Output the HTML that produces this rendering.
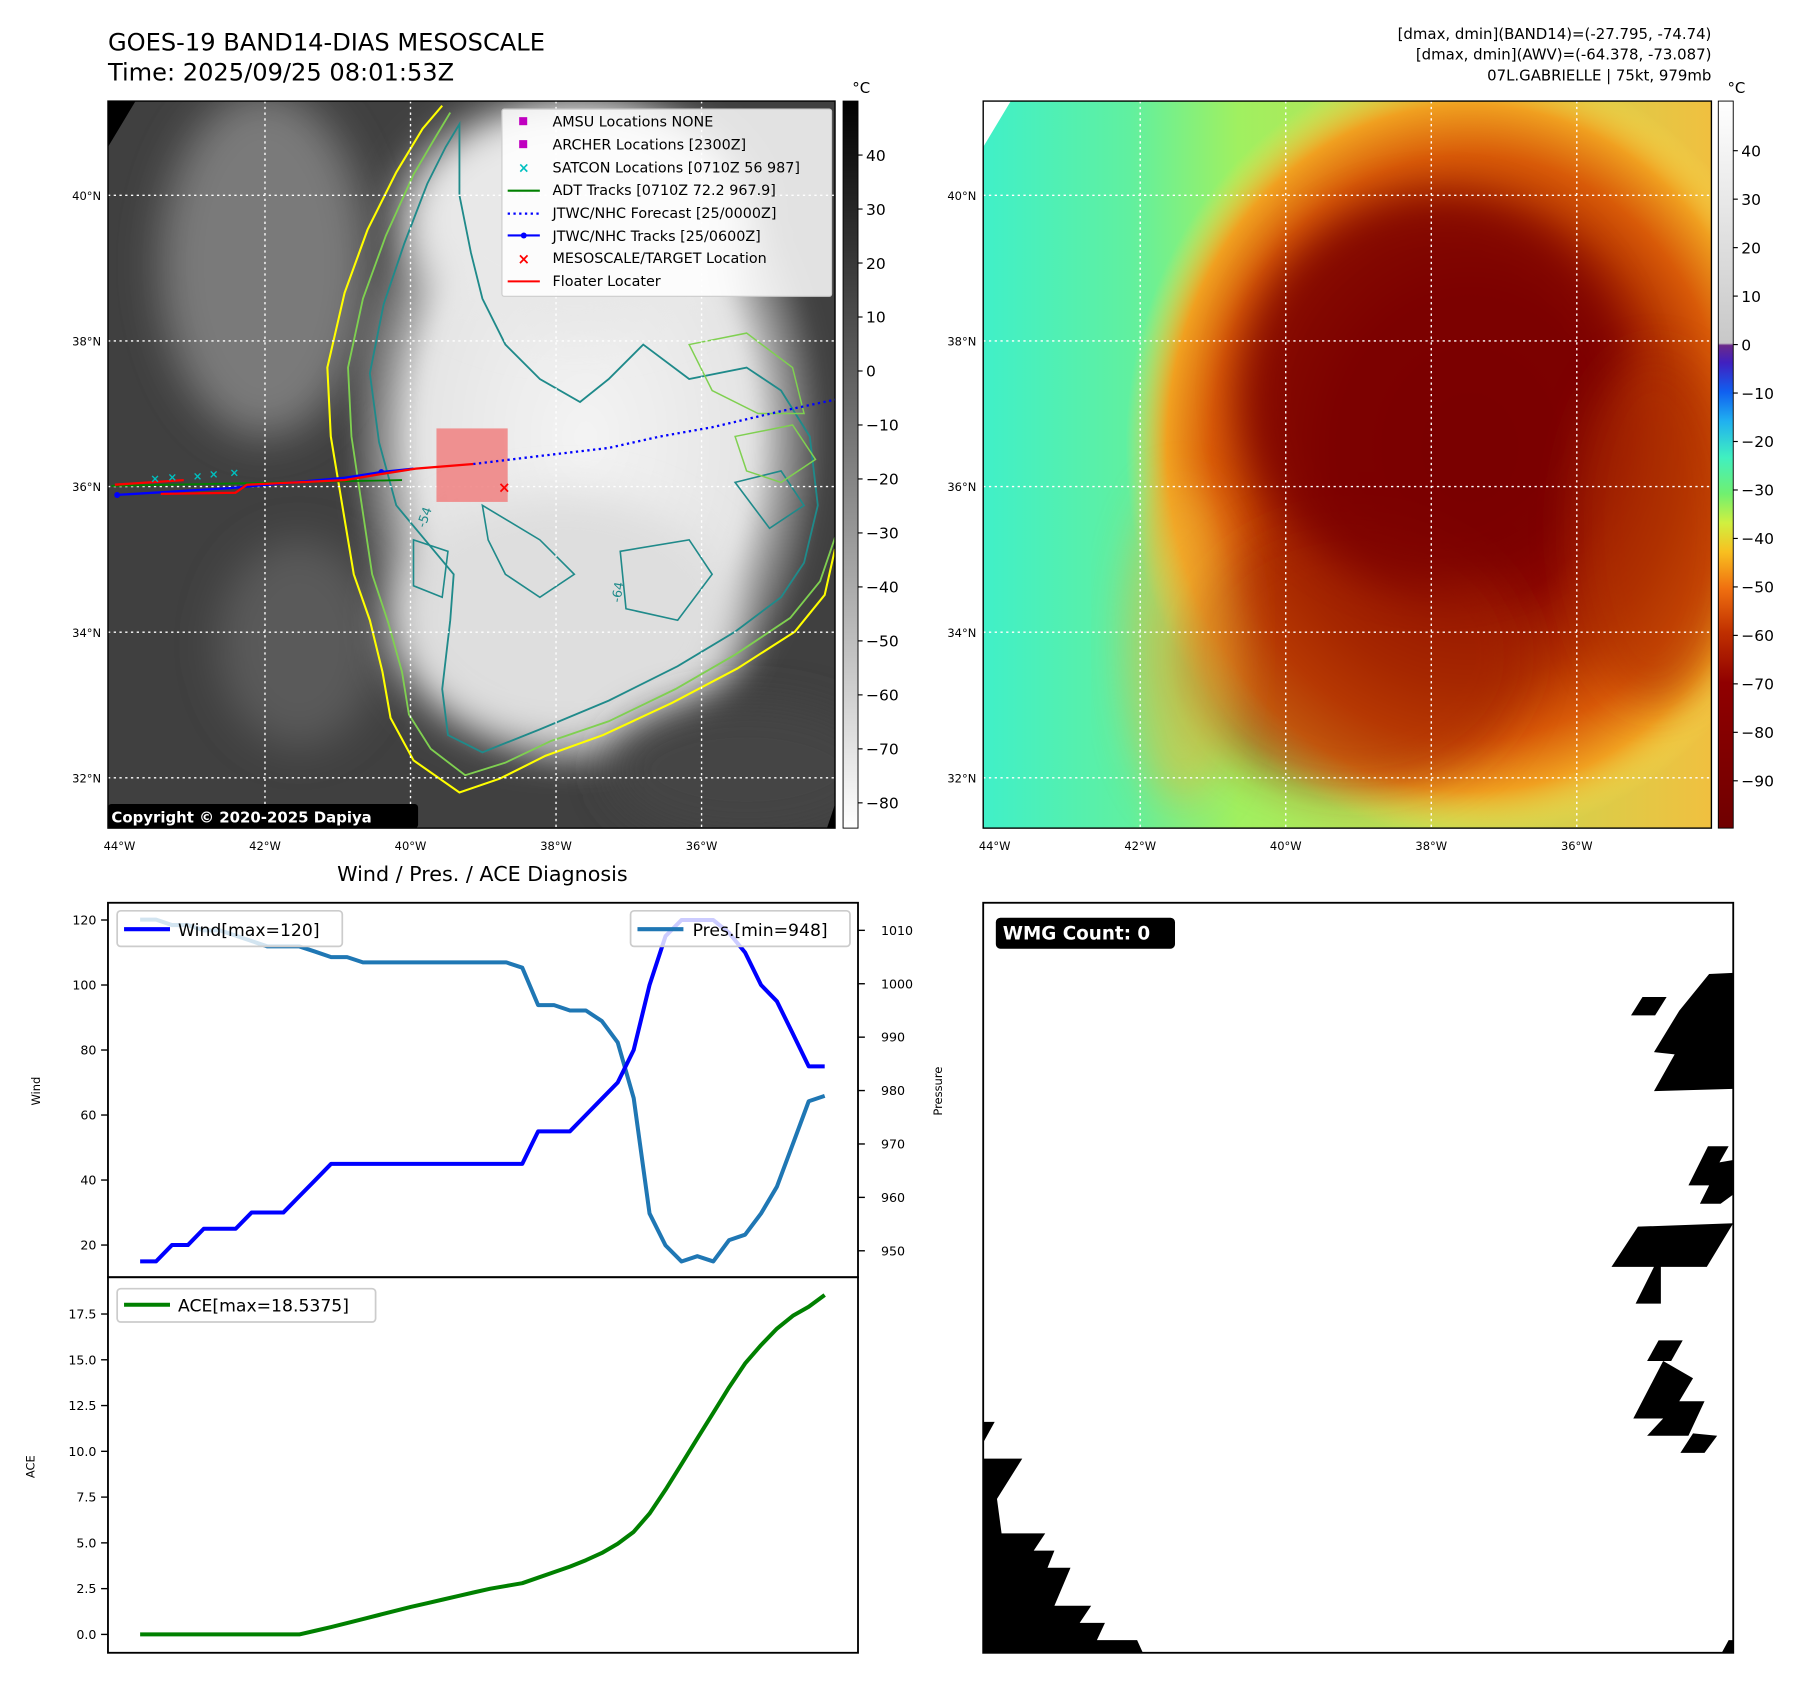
<!DOCTYPE html>
<html><head><meta charset="utf-8">
<style>
html,body{margin:0;padding:0;background:#fff;}
svg{display:block;font-family:"DejaVu Sans","Liberation Sans",sans-serif;}
</style></head>
<body>
<svg id="fig" xmlns="http://www.w3.org/2000/svg" width="1801" height="1690" viewBox="0 0 1568 1471.4" preserveAspectRatio="none">
<defs>
  <filter id="blur8" x="-30%" y="-30%" width="160%" height="160%"><feGaussianBlur stdDeviation="18"/></filter>
  <filter id="blur4" x="-30%" y="-30%" width="160%" height="160%"><feGaussianBlur stdDeviation="8"/></filter>
  <clipPath id="clipL"><rect x="94" y="88" width="633" height="633"/></clipPath>
  <clipPath id="clipR"><rect x="856" y="88" width="634" height="633"/></clipPath>
  <linearGradient id="cbGray" x1="0" y1="0" x2="0" y2="1">
    <stop offset="0" stop-color="#000"/><stop offset="1" stop-color="#fff"/>
  </linearGradient>
  <linearGradient id="cbJet" x1="0" y1="0" x2="0" y2="1">
    <stop offset="0" stop-color="#ffffff"/>
    <stop offset="0.333" stop-color="#c8c8c8"/>
    <stop offset="0.336" stop-color="#6a2a8a"/>
    <stop offset="0.36" stop-color="#4020c0"/>
    <stop offset="0.40" stop-color="#1060f0"/>
    <stop offset="0.44" stop-color="#20b0f0"/>
    <stop offset="0.49" stop-color="#40f0c0"/>
    <stop offset="0.54" stop-color="#70f070"/>
    <stop offset="0.58" stop-color="#d0f040"/>
    <stop offset="0.62" stop-color="#f8c020"/>
    <stop offset="0.67" stop-color="#f07010"/>
    <stop offset="0.73" stop-color="#c03000"/>
    <stop offset="0.80" stop-color="#900000"/>
    <stop offset="1" stop-color="#700000"/>
  </linearGradient>
  <linearGradient id="bgR" x1="0" y1="0" x2="1" y2="0">
    <stop offset="0" stop-color="#40f0c8"/><stop offset="0.2" stop-color="#60f0a0"/>
    <stop offset="0.35" stop-color="#a0f060"/><stop offset="1" stop-color="#f0c040"/>
  </linearGradient>
  <radialGradient id="stormR" cx="0.5" cy="0.5" r="0.5">
    <stop offset="0" stop-color="#7a0000"/><stop offset="0.4" stop-color="#8a0800"/>
    <stop offset="0.6" stop-color="#b03000"/><stop offset="0.75" stop-color="#d85a08"/>
    <stop offset="0.88" stop-color="#f0a020"/><stop offset="1" stop-color="#f8e050" stop-opacity="0"/>
  </radialGradient>
  <radialGradient id="cloudL" cx="0.5" cy="0.5" r="0.5">
    <stop offset="0" stop-color="#f4f4f4"/><stop offset="0.7" stop-color="#e4e4e4"/>
    <stop offset="1" stop-color="#c8c8c8" stop-opacity="0"/>
  </radialGradient>
</defs>

<!-- headers -->
<text x="94" y="44" font-size="21">GOES-19 BAND14-DIAS MESOSCALE</text>
<text x="94" y="70" font-size="21">Time: 2025/09/25 08:01:53Z</text>
<text x="1490" y="34" font-size="13" text-anchor="end">[dmax, dmin](BAND14)=(-27.795, -74.74)</text>
<text x="1490" y="52" font-size="13" text-anchor="end">[dmax, dmin](AWV)=(-64.378, -73.087)</text>
<text x="1490" y="70" font-size="13" text-anchor="end">07L.GABRIELLE | 75kt, 979mb</text>

<!-- LEFT MAP -->
<g id="mapL" clip-path="url(#clipL)">
  <rect x="94" y="88" width="633" height="633" fill="#404040"/>
  <ellipse cx="230" cy="230" rx="90" ry="150" fill="#7a7a7a" filter="url(#blur8)"/>
  <ellipse cx="260" cy="560" rx="70" ry="90" fill="#5a5a5a" filter="url(#blur8)"/>
  <ellipse cx="510" cy="380" rx="210" ry="300" fill="url(#cloudL)" filter="url(#blur4)"/>
  <ellipse cx="500" cy="190" rx="150" ry="100" fill="#e8e8e8" filter="url(#blur8)"/>
  <ellipse cx="490" cy="540" rx="150" ry="110" fill="#dedede" filter="url(#blur8)"/>
  <ellipse cx="650" cy="670" rx="120" ry="60" fill="#454545" filter="url(#blur8)"/>
  <polygon points="94,88 118,88 94,128" fill="#000"/>
  <polygon points="720,721 727,700 727,721" fill="#000"/>
  <path d="M385,92 L368,112 L345,150 L320,200 L300,255 L285,320 L288,380 L298,440 L308,500 L322,540 L333,585 L340,625 L360,662 L400,690 L435,678 L475,658 L525,640 L585,612 L642,582 L692,550 L718,518 L727,478" fill="none" stroke="#ffff00" stroke-width="1.8"/>
  <path d="M392,98 L380,118 L360,152 L336,205 L316,260 L303,320 L306,380 L315,440 L324,500 L338,542 L350,585 L356,622 L375,652 L405,675 L440,664 L480,645 L530,628 L588,600 L640,570 L688,538 L714,506 L727,468" fill="none" stroke="#7fd050" stroke-width="1.6"/>
  <path d="M400,108 L388,128 L372,160 L352,212 L334,265 L322,325 L330,385 L345,440 L370,470 L395,500 L392,540 L385,600 L390,640 L420,655 L470,635 L530,610 L590,580 L640,550 L680,520 L700,490 L712,440 L705,380 L680,340 L650,320 L600,330 L560,300 L530,330 L505,350 L470,330 L440,300 L420,260 L410,220 L400,170 Z" fill="none" stroke="#1f8a8a" stroke-width="1.6"/>
  <path d="M420,440 L470,470 L500,500 L470,520 L440,500 L425,470 Z M540,480 L600,470 L620,500 L590,540 L545,530 Z M640,420 L680,410 L700,440 L670,460 Z M360,470 L390,480 L385,520 L360,510 Z" fill="none" stroke="#1f8a8a" stroke-width="1.4"/>
  <path d="M600,300 L650,290 L690,320 L700,360 L660,360 L620,340 Z M640,380 L690,370 L710,400 L680,420 L650,410 Z" fill="none" stroke="#7fd050" stroke-width="1.3"/>
</g>
<g id="gridL"></g>
<rect x="94" y="88" width="633" height="633" fill="none" stroke="#000" stroke-width="1.2"/>
<rect x="380" y="373" width="62" height="64" fill="#f08080" fill-opacity="0.85"/>
<g clip-path="url(#clipL)">
  <polyline points="97,423 200,421 300,419 350,418" fill="none" stroke="#008000" stroke-width="1.6"/>
  <polyline points="412,404 470,397 530,390 575,380 620,372 680,358 727,348" fill="none" stroke="#0000ff" stroke-width="2" stroke-dasharray="2,3"/>
  <polyline points="100,431 200,425 300,416 332,411 360,408" fill="none" stroke="#0000ff" stroke-width="2"/>
  <circle cx="102" cy="431" r="2.6" fill="#0000ff"/><circle cx="332" cy="411" r="2.6" fill="#0000ff"/>
  <polyline points="100,422 160,418" fill="none" stroke="#ff0000" stroke-width="2"/>
  <polyline points="140,430 205,429 215,422 300,418 330,413 362,408 412,404" fill="none" stroke="#ff0000" stroke-width="2"/>
  <text x="439" y="429" font-size="13" fill="#ff0000" text-anchor="middle" font-weight="bold">×</text>
  <g fill="#00c0c0" font-size="10" font-weight="bold" text-anchor="middle">
    <text x="135" y="420">×</text><text x="150" y="419">×</text><text x="172" y="418">×</text><text x="186" y="416">×</text><text x="204" y="415">×</text>
  </g>
  <text x="370" y="460" font-size="11" fill="#1f8a8a" transform="rotate(-70 370 460)">-54</text>
  <text x="540" y="525" font-size="11" fill="#1f8a8a" transform="rotate(-80 540 525)">-64</text>
</g>
<!-- legend -->
<g>
  <rect x="437" y="95" width="287" height="163" fill="#fff" fill-opacity="0.85" stroke="#ccc" rx="2"/>
  <rect x="452" y="102" width="7" height="7" fill="#c000c0"/>
  <text x="481" y="110" font-size="12.5">AMSU Locations NONE</text>
  <rect x="452" y="122" width="7" height="7" fill="#c000c0"/>
  <text x="481" y="130" font-size="12.5">ARCHER Locations [2300Z]</text>
  <text x="456" y="150" font-size="12" fill="#00c0c0" text-anchor="middle" font-weight="bold">×</text>
  <text x="481" y="150" font-size="12.5">SATCON Locations [0710Z 56 987]</text>
  <line x1="442" y1="166" x2="470" y2="166" stroke="#008000" stroke-width="1.8"/>
  <text x="481" y="170" font-size="12.5">ADT Tracks [0710Z 72.2 967.9]</text>
  <line x1="442" y1="186" x2="470" y2="186" stroke="#0000ff" stroke-width="2" stroke-dasharray="2,3"/>
  <text x="481" y="190" font-size="12.5">JTWC/NHC Forecast [25/0000Z]</text>
  <line x1="442" y1="205" x2="470" y2="205" stroke="#0000ff" stroke-width="1.8"/><circle cx="456" cy="205" r="2.6" fill="#0000ff"/>
  <text x="481" y="210" font-size="12.5">JTWC/NHC Tracks [25/0600Z]</text>
  <text x="456" y="230" font-size="13" fill="#ff0000" text-anchor="middle" font-weight="bold">×</text>
  <text x="481" y="229" font-size="12.5">MESOSCALE/TARGET Location</text>
  <line x1="442" y1="245" x2="470" y2="245" stroke="#ff0000" stroke-width="1.8"/>
  <text x="481" y="249" font-size="12.5">Floater Locater</text>
</g>
<rect x="94" y="700" width="270" height="21" rx="3" fill="#000"/>
<text x="97" y="716" font-size="13" font-weight="bold" fill="#fff">Copyright © 2020-2025 Dapiya</text>
<rect x="734" y="88" width="13" height="633" fill="url(#cbGray)" stroke="#000" stroke-width="0.8"/>
<text x="742" y="81" font-size="13">°C</text>

<!-- RIGHT MAP -->
<g clip-path="url(#clipR)">
  <rect x="856" y="88" width="634" height="633" fill="url(#bgR)"/>
  <ellipse cx="1280" cy="390" rx="300" ry="340" fill="url(#stormR)"/>
  <ellipse cx="1180" cy="570" rx="150" ry="120" fill="#a02000" opacity="0.6" filter="url(#blur8)"/>
  <ellipse cx="1250" cy="340" rx="170" ry="170" fill="#7a0000" opacity="0.8" filter="url(#blur8)"/>
  <ellipse cx="1440" cy="460" rx="70" ry="150" fill="#b03000" opacity="0.6" filter="url(#blur8)"/>
  <ellipse cx="1030" cy="560" rx="50" ry="140" fill="#f0b030" opacity="0.5" filter="url(#blur8)"/>
  <polygon points="856,88 880,88 856,128" fill="#fff"/>
</g>
<g id="gridR"></g>
<rect x="856" y="88" width="634" height="633" fill="none" stroke="#000" stroke-width="1.2"/>
<rect x="1496" y="88" width="13" height="633" fill="url(#cbJet)" stroke="#000" stroke-width="0.8"/>
<text x="1504" y="81" font-size="13">°C</text>
<g id="cbticks"></g>

<!-- WIND / PRES / ACE -->
<text x="420" y="767" font-size="18" text-anchor="middle">Wind / Pres. / ACE Diagnosis</text>
<g id="windPanel"></g>
<g id="acePanel"></g>
<rect x="94" y="786" width="653" height="326" fill="none" stroke="#000" stroke-width="1.6"/>
<rect x="94" y="1112" width="653" height="327" fill="none" stroke="#000" stroke-width="1.6"/>
<text x="35" y="950" font-size="10" text-anchor="middle" transform="rotate(-90 35 950)">Wind</text>
<text x="820" y="950" font-size="10" text-anchor="middle" transform="rotate(-90 820 950)">Pressure</text>
<text x="30" y="1277" font-size="10" text-anchor="middle" transform="rotate(-90 30 1277)">ACE</text>
<g>
  <rect x="102" y="793" width="196" height="31" rx="3" fill="#fff" fill-opacity="0.8" stroke="#ccc" stroke-width="1.5"/>
  <line x1="108" y1="809" x2="148" y2="809" stroke="#0000ff" stroke-width="3.5"/>
  <text x="155" y="815" font-size="15">Wind[max=120]</text>
</g>
<g>
  <rect x="549" y="793" width="191" height="31" rx="3" fill="#fff" fill-opacity="0.8" stroke="#ccc" stroke-width="1.5"/>
  <line x1="555" y1="809" x2="595" y2="809" stroke="#1f77b4" stroke-width="3.5"/>
  <text x="603" y="815" font-size="15">Pres.[min=948]</text>
</g>
<g>
  <rect x="102" y="1122" width="225" height="29" rx="3" fill="#fff" fill-opacity="0.8" stroke="#ccc" stroke-width="1.5"/>
  <line x1="108" y1="1136" x2="148" y2="1136" stroke="#008000" stroke-width="3.5"/>
  <text x="155" y="1142" font-size="15">ACE[max=18.5375]</text>
</g>

<!-- WMG -->
<g>
  <rect x="856" y="786" width="653" height="653" fill="#fff"/>
  <g fill="#000">
    <polygon points="1420,884 1430,868 1451,868 1441,884"/>
    <polygon points="1488,848 1509,847 1509,948 1440,950 1458,918 1440,916 1462,880"/>
    <polygon points="1470,1032 1487,998 1505,998 1497,1012 1509,1010 1509,1040 1498,1048 1480,1048 1488,1032"/>
    <polygon points="1403,1103 1426,1068 1509,1065 1486,1103 1446,1103 1446,1135 1424,1135 1440,1103"/>
    <polygon points="1434,1185 1444,1167 1465,1167 1455,1185"/>
    <polygon points="1422,1235 1448,1185 1474,1200 1462,1220 1484,1220 1470,1250 1434,1250 1448,1235"/>
    <polygon points="1463,1265 1474,1248 1495,1250 1484,1265"/>
    <polygon points="856,1238 866,1238 856,1256"/>
    <polygon points="856,1270 890,1270 868,1305 872,1335 910,1335 900,1350 918,1350 912,1365 932,1365 918,1398 950,1398 940,1413 962,1413 955,1428 990,1428 995,1439 856,1439"/>
    <polygon points="1499,1439 1505,1428 1509,1428 1509,1439"/>
  </g>
  <rect x="856" y="786" width="653" height="653" fill="none" stroke="#000" stroke-width="1.6"/>
  <rect x="867" y="799" width="156" height="27" rx="4" fill="#000"/>
  <text x="873" y="818" font-size="16" font-weight="bold" fill="#fff">WMG Count: 0</text>
</g>

<script>
// ---- chart data ----
const windValues = [15,15,20,20,25,25,25,30,30,30,35,40,45,45,45,45,45,45,45,45,45,45,45,45,45,55,55,55,60,65,70,80,100,115,120,120,120,116,110,100,95,85,75,75];
const presValues = [1012,1012,1011,1011,1010,1010,1009,1008,1007,1007,1007,1006,1005,1005,1004,1004,1004,1004,1004,1004,1004,1004,1004,1004,1003,996,996,995,995,993,989,978.6,957,951,948,949,948,952,953,957,962,970,978,979];
const aceValues = [0,0,0,0,0,0,0,0,0,0,0,0.2,0.4,0.62,0.84,1.06,1.28,1.5,1.7,1.9,2.1,2.3,2.5,2.65,2.8,3.1,3.4,3.7,4.05,4.45,4.95,5.6,6.6,7.9,9.3,10.7,12.1,13.5,14.8,15.8,16.7,17.4,17.9,18.5375];
const windTicks = [20,40,60,80,100,120];
const presTicks = [950,960,970,980,990,1000,1010];
const aceTicks = [0,2.5,5,7.5,10,12.5,15,17.5];
const lonTicks = [44,42,40,38,36];
const latTicks = [40,38,36,34,32];
const irCbTicks = [40,30,20,10,0,-10,-20,-30,-40,-50,-60,-70,-80];
const awvCbTicks = [40,30,20,10,0,-10,-20,-30,-40,-50,-60,-70,-80,-90];

const NS='http://www.w3.org/2000/svg';
function mk(tag, attrs, parent){const e=document.createElementNS(NS,tag);for(const k in attrs)e.setAttribute(k,attrs[k]);parent.appendChild(e);return e;}
const xIdx = i => 122 + i*(718-122)/(windValues.length-1);
const yWind = v => 801 + (120-v)*2.83;
const yPres = p => 810 + (1010-p)*4.65;
const yAce = v => 1423 - v*15.94;
const lonX = (lon, x0) => x0 + 10 + (44-lon)*63.35;
const latY = lat => 170 + (40-lat)*63.4;
const cbIrY = t => 135 + (40-t)*4.7;
const cbAwvY = t => 300 - t*4.22;

const wp=document.getElementById('windPanel');
const ap=document.getElementById('acePanel');
function series(vals, yf, color, name, parent){
  const pl=mk('polyline',{points:vals.map((v,i)=>xIdx(i).toFixed(1)+','+yf(v).toFixed(1)).join(' '),fill:'none',stroke:color,'stroke-width':3.5,'stroke-linejoin':'round'},parent);
  
  
}
series(presValues,yPres,'#1f77b4','pressure-line',wp);
series(windValues,yWind,'#0000ff','wind-line',wp);
series(aceValues,yAce,'#008000','ace-line',ap);
windTicks.forEach(t=>{const y=yWind(t);mk('line',{x1:88,y1:y,x2:94,y2:y,stroke:'#000','stroke-width':1.2},wp);
  const tx=mk('text',{x:84,y:y+4,'font-size':11,'text-anchor':'end'},wp);tx.textContent=t;
  
  });
presTicks.forEach(t=>{const y=yPres(t);mk('line',{x1:747,y1:y,x2:753,y2:y,stroke:'#000','stroke-width':1.2},wp);
  const tx=mk('text',{x:767,y:y+4,'font-size':11},wp);tx.textContent=t;
  
  });
aceTicks.forEach(t=>{const y=yAce(t);mk('line',{x1:88,y1:y,x2:94,y2:y,stroke:'#000','stroke-width':1.2},ap);
  const tx=mk('text',{x:84,y:y+4,'font-size':11,'text-anchor':'end'},ap);tx.textContent=t.toFixed(1);
  
  });

// map grids
[['gridL',94],['gridR',856]].forEach(([id,x0])=>{
  const g=document.getElementById(id);
  lonTicks.forEach(l=>{const x=lonX(l,x0);
    if(l!==44) mk('line',{x1:x,y1:88,x2:x,y2:721,stroke:'#fff','stroke-width':1.2,'stroke-dasharray':'2,3'},g);
    const tx=mk('text',{x:x,y:740,'font-size':10,'text-anchor':'middle'},g);tx.textContent=l+'°W';
    
    });
  latTicks.forEach(l=>{const y=latY(l);
    mk('line',{x1:x0,y1:y,x2:x0+634,y2:y,stroke:'#fff','stroke-width':1.2,'stroke-dasharray':'2,3'},g);
    const tx=mk('text',{x:x0-6,y:y+4,'font-size':10,'text-anchor':'end'},g);tx.textContent=l+'°N';
    
    });
});
const cb=document.getElementById('cbticks');
irCbTicks.forEach(t=>{const y=cbIrY(t);mk('line',{x1:747,y1:y,x2:751,y2:y,stroke:'#000'},cb);
  const tx=mk('text',{x:754,y:y+5,'font-size':13.5},cb);tx.textContent=t<0?'\u2212'+(-t):t;
  
  });
awvCbTicks.forEach(t=>{const y=cbAwvY(t);mk('line',{x1:1509,y1:y,x2:1513,y2:y,stroke:'#000'},cb);
  const tx=mk('text',{x:1516,y:y+5,'font-size':13.5},cb);tx.textContent=t<0?'\u2212'+(-t):t;
  
  });
</script>
</svg>
</body></html>
